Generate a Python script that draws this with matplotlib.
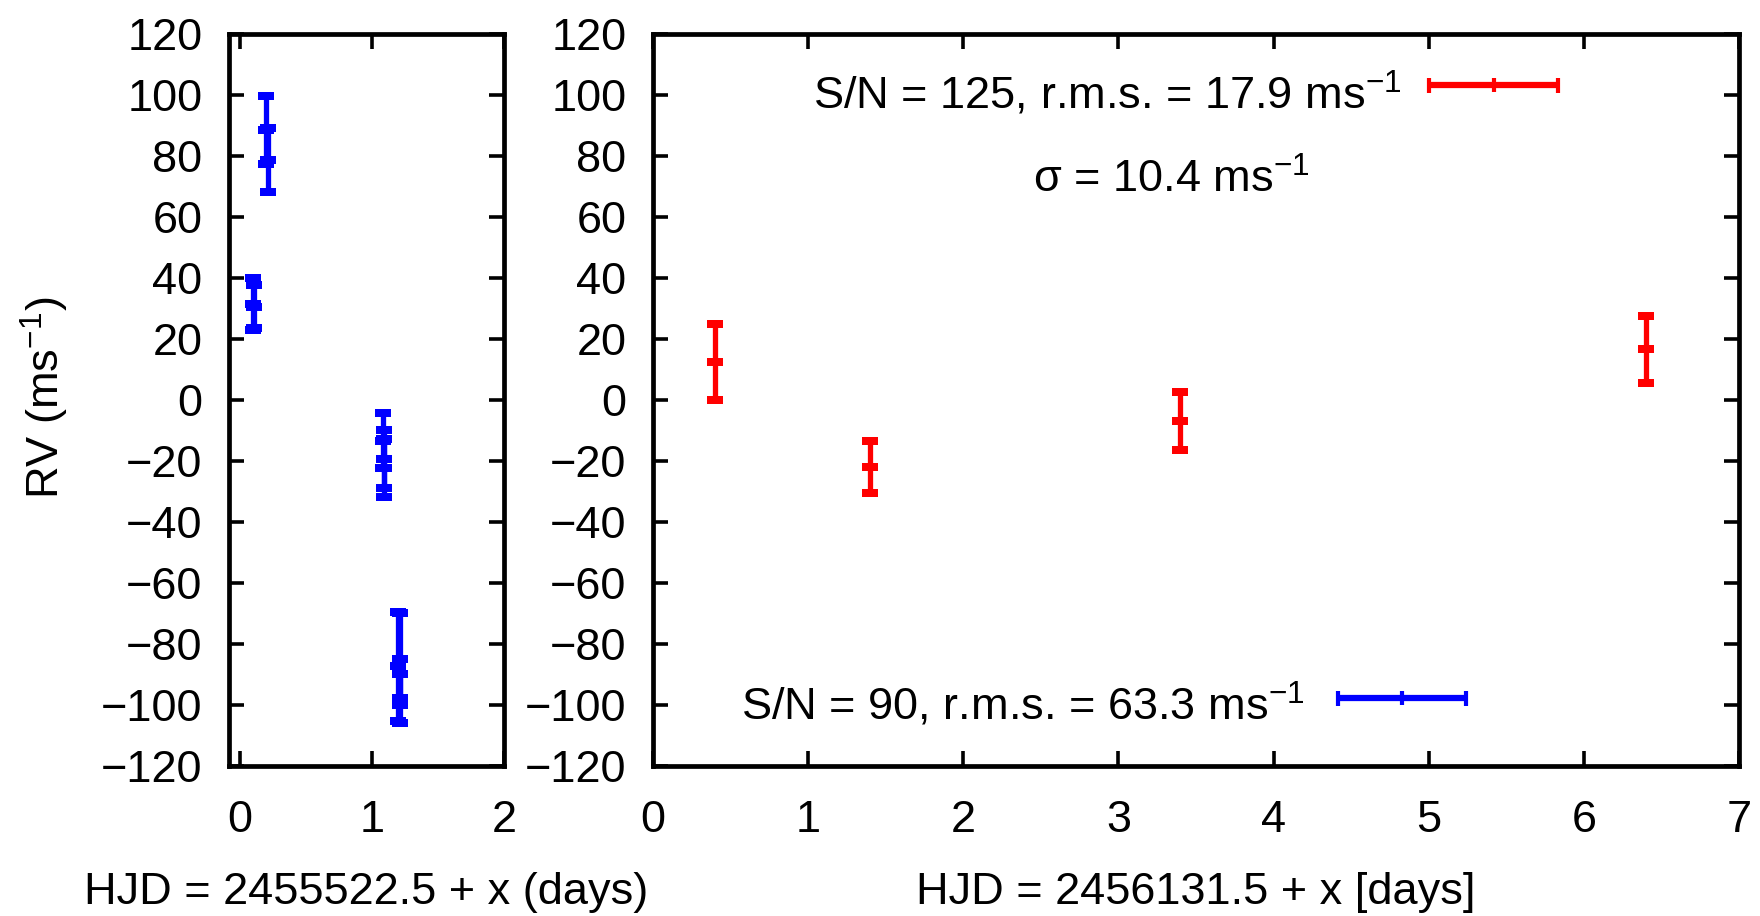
import matplotlib
matplotlib.use("Agg")
import matplotlib.pyplot as plt

# two-panel RV plot: 2010 run (blue) and 2012 run (red)

plt.rcParams["font.family"] = ["Liberation Sans", "DejaVu Sans"]
plt.rcParams["mathtext.fontset"] = "custom"
plt.rcParams["mathtext.rm"] = "Liberation Sans"
plt.rcParams["mathtext.it"] = "Liberation Sans"
plt.rcParams["mathtext.default"] = "regular"

# ---- data ----
blue_x = [0.10, 0.11, 0.20, 0.21, 1.08, 1.09, 1.09, 1.20, 1.21, 1.21]
blue_rv = [31.5, 30.5, 88.5, 78.5, -13.5, -22.5, -19.5, -87.5, -85.0, -98.0]
blue_err = [8.5, 7.0, 11.0, 10.5, 9.0, 9.5, 9.5, 18.0, 15.0, 8.0]

red_x = [0.4, 1.4, 3.4, 6.4]
red_rv = [12.5, -22.0, -7.0, 16.5]
red_err = [12.5, 8.5, 9.5, 11.0]

yticks = list(range(-120, 121, 20))
left_xticks = [0, 1, 2]
right_xticks = [0, 1, 2, 3, 4, 5, 6, 7]

label_red = "S/N = 125, r.m.s. = 17.9 ms$^{-1}$"
label_blue = "S/N = 90, r.m.s. = 63.3 ms$^{-1}$"
label_sigma = "σ = 10.4 ms$^{-1}$"

FS = 32.5
W, H = 1760, 916

# flat chunky cap, like gnuplot's thick errorbar ends
CAP = [(-1, -0.44), (1, -0.44), (1, 0.44), (-1, 0.44), (-1, -0.44)]


def rv_errorbars(ax, x, y, e, color):
    ax.errorbar(x, y, yerr=e, fmt="none", ecolor=color, elinewidth=3.8, capsize=0)
    lo = [a - b for a, b in zip(y, e)]
    hi = [a + b for a, b in zip(y, e)]
    for yy in (lo, y, hi):
        ax.plot(x, yy, ls="none", marker=CAP, ms=11.5, mew=0, color=color)


fig = plt.figure(figsize=(W / 100, H / 100), dpi=100)
ax1 = fig.add_axes([229 / W, 1 - 765.5 / H, 275 / W, 731.5 / H])
ax2 = fig.add_axes([653 / W, 1 - 765.5 / H, 1086 / W, 731.5 / H])

rv_errorbars(ax1, blue_x, blue_rv, blue_err, "#0000ff")
rv_errorbars(ax2, red_x, red_rv, red_err, "#ff0000")

for ax, xt in ((ax1, left_xticks), (ax2, right_xticks)):
    ax.set_ylim(-120, 120)
    ax.set_yticks(yticks)
    ax.set_xticks(xt)
    ax.tick_params(direction="in", length=10.5, width=2.6, labelsize=FS,
                   top=True, right=True, pad=19)
    ax.tick_params(axis="x", pad=25)
    for sp in ax.spines.values():
        sp.set_linewidth(3.4)

ax1.set_xlim(-0.083, 2)
ax2.set_xlim(0, 7)

# key samples (gnuplot style), placed in axes fraction
key_kw = dict(fmt="|", ms=10, mew=3, elinewidth=4.5, capsize=5.4, capthick=3.5, clip_on=False)
ax2.errorbar([0.774], [0.930], xerr=[0.059], color="#ff0000", transform=ax2.transAxes, **key_kw)
ax2.errorbar([0.690], [0.092], xerr=[0.059], color="#0000ff", transform=ax2.transAxes, **key_kw)

ax2.text(0.689, 0.918, label_red, transform=ax2.transAxes, ha="right", va="center", fontsize=FS)
ax2.text(0.600, 0.082, label_blue, transform=ax2.transAxes, ha="right", va="center", fontsize=FS)
ax2.text(0.477, 0.800, label_sigma, transform=ax2.transAxes, ha="center", va="center", fontsize=FS)

fig.text(45 / W, 1 - 398 / H, "RV (ms$^{-1}$)", rotation=90, ha="center", va="center", fontsize=FS)
fig.text(366 / W, 3 / H, "HJD = 2455522.5 + x (days)", ha="center", va="bottom", fontsize=FS)
fig.text(1196 / W, 3 / H, "HJD = 2456131.5 + x [days]", ha="center", va="bottom", fontsize=FS)

fig.savefig("out.png", dpi=100)
